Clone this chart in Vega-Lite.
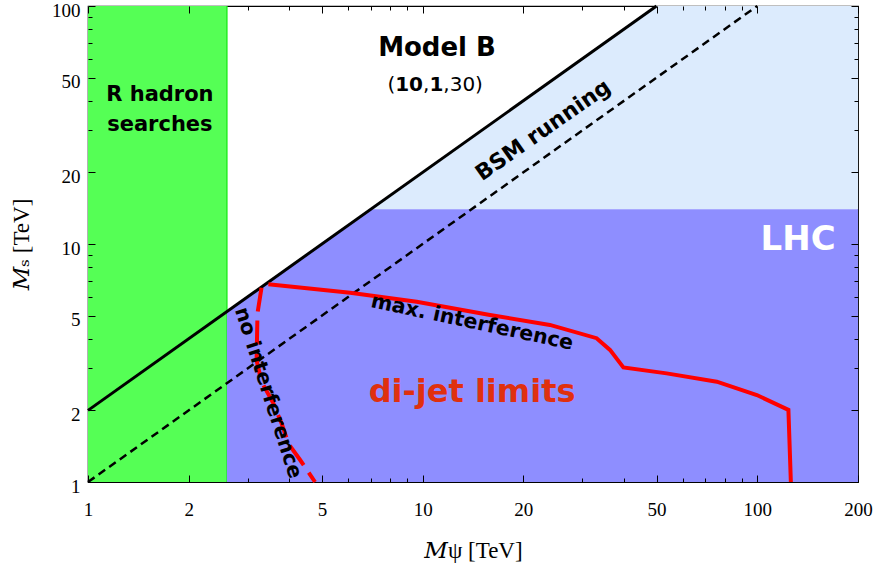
{
  "$schema": "https://vega.github.io/schema/vega-lite/v6.json",
  "width": 770,
  "height": 476,
  "autosize": {"type": "none"},
  "padding": {"left": 88, "top": 6, "right": 17, "bottom": 91},
  "background": "white",
  "config": {
    "view": {"stroke": "black", "strokeWidth": 1.2},
    "axis": {
      "grid": false,
      "domain": false,
      "ticks": true,
      "tickColor": "black",
      "tickWidth": 1,
      "labelFont": "Liberation Serif",
      "labelFontSize": 19,
      "labelColor": "black",
      "titleFont": "Liberation Serif, DejaVu Serif",
      "titleFontSize": 23,
      "titleFontWeight": "normal",
      "titleColor": "black",
      "labelOverlap": false,
      "labelFlush": false
    }
  },
  "datasets": {
    "green": [{"x": 1, "x2": 2.6, "y": 1, "y2": 100}],
    "lightblue": [{"x": 7, "y": 14, "y2": 14}, {"x": 50, "y": 14, "y2": 100}, {"x": 200, "y": 14, "y2": 100}],
    "purple": [{"x": 2.6, "y": 1, "y2": 5.2}, {"x": 7, "y": 1, "y2": 14}, {"x": 200, "y": 1, "y2": 14}],
    "solid": [{"x": 1, "y": 2}, {"x": 50, "y": 100}],
    "dashed": [{"x": 1, "y": 1}, {"x": 100, "y": 100}],
    "redsolid": [
      {"i": 1, "x": 3.46, "y": 6.77}, {"i": 2, "x": 6.07, "y": 6.24}, {"i": 3, "x": 9.6, "y": 5.72},
      {"i": 4, "x": 15.9, "y": 5.03}, {"i": 5, "x": 24, "y": 4.57}, {"i": 6, "x": 33.1, "y": 4.02},
      {"i": 7, "x": 36.3, "y": 3.59}, {"i": 8, "x": 39.8, "y": 3.03}, {"i": 9, "x": 53.6, "y": 2.86},
      {"i": 10, "x": 75.7, "y": 2.64}, {"i": 11, "x": 99.7, "y": 2.32}, {"i": 12, "x": 123.9, "y": 2.01},
      {"i": 13, "x": 126, "y": 1}
    ],
    "reddashed": [
      {"i": 1, "x": 3.3, "y": 6.55}, {"i": 2, "x": 3.21, "y": 5.12}, {"i": 3, "x": 3.19, "y": 3.25},
      {"i": 4, "x": 3.3, "y": 2.64}, {"i": 5, "x": 3.58, "y": 2.14}, {"i": 6, "x": 3.79, "y": 1.76},
      {"i": 7, "x": 3.97, "y": 1.45}, {"i": 8, "x": 4.3, "y": 1.24}, {"i": 9, "x": 4.77, "y": 1}
    ],
    "model": [{"x": 10.9, "y": 46.6}]
  },
  "layer": [
    {
      "data": {"name": "green"},
      "mark": {"type": "rect", "color": "#55ff55"},
      "encoding": {
        "x": {"field": "x", "type": "quantitative", "scale": {"type": "log", "domain": [1, 200], "nice": false},
          "axis": {
            "orient": "bottom",
            "zindex": 1,
            "values": [1, 2, 5, 10, 20, 50, 100, 200],
            "offset": -7,
            "tickSize": 7,
            "labelPadding": 18,
            "title": "𝑀ψ  [TeV]",
            "titlePadding": 20
          }},
        "x2": {"field": "x2"},
        "y": {"field": "y", "type": "quantitative", "scale": {"type": "log", "domain": [1, 100], "nice": false},
          "axis": {
            "orient": "left",
            "zindex": 1,
            "values": [1, 2, 5, 10, 20, 50, 100],
            "offset": -7,
            "tickSize": 7,
            "labelPadding": 8,
            "labelOffset": 4,
            "title": "𝑀ₛ  [TeV]",
            "titlePadding": 18
          }},
        "y2": {"field": "y2"}
      }
    },
    {
      "data": {"name": "green"},
      "mark": {"type": "rule", "color": "#22ee22", "strokeWidth": 1.5},
      "encoding": {
        "x": {"field": "x2", "type": "quantitative",
          "axis": {"orient": "bottom", "zindex": 1, "values": [3, 4, 6, 7, 8, 9, 30, 40, 60, 70, 80, 90], "offset": -4, "tickSize": 4, "labels": false, "title": null}},
        "y": {"field": "y", "type": "quantitative",
          "axis": {"orient": "left", "zindex": 1, "values": [3, 4, 6, 7, 8, 9, 30, 40, 60, 70, 80, 90], "offset": -4, "tickSize": 4, "labels": false, "title": null}},
        "y2": {"field": "y2"}
      }
    },
    {
      "data": {"name": "lightblue"},
      "mark": {"type": "area", "color": "#dcebfd", "opacity": 1},
      "encoding": {
        "x": {"field": "x", "type": "quantitative", "axis": null},
        "y": {"field": "y", "type": "quantitative", "axis": null},
        "y2": {"field": "y2"}
      }
    },
    {
      "data": {"name": "purple"},
      "mark": {"type": "area", "color": "#8e8eff", "opacity": 1},
      "encoding": {
        "x": {"field": "x", "type": "quantitative", "axis": null},
        "y": {"field": "y", "type": "quantitative", "axis": null},
        "y2": {"field": "y2"}
      }
    },
    {
      "data": {"name": "solid"},
      "mark": {"type": "line", "color": "black", "strokeWidth": 3},
      "encoding": {
        "x": {"field": "x", "type": "quantitative",
          "axis": {"orient": "top", "zindex": 1, "values": [1, 2, 5, 10, 20, 50, 100, 200], "offset": -7, "tickSize": 7, "labels": false, "title": null}},
        "y": {"field": "y", "type": "quantitative",
          "axis": {"orient": "right", "zindex": 1, "values": [1, 2, 5, 10, 20, 50, 100], "offset": -7, "tickSize": 7, "labels": false, "title": null}}
      }
    },
    {
      "data": {"name": "dashed"},
      "mark": {"type": "line", "color": "black", "strokeWidth": 2.5, "strokeDash": [8, 5]},
      "encoding": {
        "x": {"field": "x", "type": "quantitative",
          "axis": {"orient": "top", "zindex": 1, "values": [3, 4, 6, 7, 8, 9, 30, 40, 60, 70, 80, 90], "offset": -4, "tickSize": 4, "labels": false, "title": null}},
        "y": {"field": "y", "type": "quantitative",
          "axis": {"orient": "right", "zindex": 1, "values": [3, 4, 6, 7, 8, 9, 30, 40, 60, 70, 80, 90], "offset": -4, "tickSize": 4, "labels": false, "title": null}}
      }
    },
    {
      "data": {"name": "redsolid"},
      "mark": {"type": "line", "color": "#ff0000", "strokeWidth": 4},
      "encoding": {
        "x": {"field": "x", "type": "quantitative", "axis": null},
        "y": {"field": "y", "type": "quantitative", "axis": null},
        "order": {"field": "i"}
      }
    },
    {
      "data": {"name": "reddashed"},
      "mark": {"type": "line", "color": "#ff0000", "strokeWidth": 4, "strokeDash": [24, 9]},
      "encoding": {
        "x": {"field": "x", "type": "quantitative", "axis": null},
        "y": {"field": "y", "type": "quantitative", "axis": null},
        "order": {"field": "i"}
      }
    },
    {
      "data": {"values": [{"x": 1.64, "y": 42.3, "t": "R hadron"}, {"x": 1.64, "y": 31.6, "t": "searches"}]},
      "mark": {"type": "text", "font": "DejaVu Sans", "fontWeight": "bold", "fontSize": 21, "align": "center", "baseline": "middle", "color": "black"},
      "encoding": {
        "x": {"field": "x", "type": "quantitative", "axis": null},
        "y": {"field": "y", "type": "quantitative", "axis": null},
        "text": {"field": "t"}
      }
    },
    {
      "data": {"values": [{"x": 11.04, "y": 66.6, "t": "Model B"}]},
      "mark": {"type": "text", "font": "DejaVu Sans", "fontWeight": "bold", "fontSize": 26, "align": "center", "baseline": "middle", "color": "black"},
      "encoding": {
        "x": {"field": "x", "type": "quantitative", "axis": null},
        "y": {"field": "y", "type": "quantitative", "axis": null},
        "text": {"field": "t"}
      }
    },
    {
      "data": {"name": "model"},
      "mark": {"type": "text", "font": "DejaVu Sans", "fontSize": 20, "align": "left", "baseline": "middle", "color": "black", "dx": -47.75, "text": "("},
      "encoding": {
        "x": {"field": "x", "type": "quantitative", "axis": null},
        "y": {"field": "y", "type": "quantitative", "axis": null}
      }
    },
    {
      "data": {"name": "model"},
      "mark": {"type": "text", "font": "DejaVu Sans", "fontWeight": "bold", "fontSize": 20, "align": "left", "baseline": "middle", "color": "black", "dx": -39.95, "text": "10"},
      "encoding": {
        "x": {"field": "x", "type": "quantitative", "axis": null},
        "y": {"field": "y", "type": "quantitative", "axis": null}
      }
    },
    {
      "data": {"name": "model"},
      "mark": {"type": "text", "font": "DejaVu Sans", "fontSize": 20, "align": "left", "baseline": "middle", "color": "black", "dx": -12.15, "text": ","},
      "encoding": {
        "x": {"field": "x", "type": "quantitative", "axis": null},
        "y": {"field": "y", "type": "quantitative", "axis": null}
      }
    },
    {
      "data": {"name": "model"},
      "mark": {"type": "text", "font": "DejaVu Sans", "fontWeight": "bold", "fontSize": 20, "align": "left", "baseline": "middle", "color": "black", "dx": -5.75, "text": "1"},
      "encoding": {
        "x": {"field": "x", "type": "quantitative", "axis": null},
        "y": {"field": "y", "type": "quantitative", "axis": null}
      }
    },
    {
      "data": {"name": "model"},
      "mark": {"type": "text", "font": "DejaVu Sans", "fontSize": 20, "align": "left", "baseline": "middle", "color": "black", "dx": 8.15, "text": ",30)"},
      "encoding": {
        "x": {"field": "x", "type": "quantitative", "axis": null},
        "y": {"field": "y", "type": "quantitative", "axis": null}
      }
    },
    {
      "data": {"values": [{"x": 22.9, "y": 30.1, "t": "BSM running"}]},
      "mark": {"type": "text", "font": "DejaVu Sans", "fontWeight": "bold", "fontSize": 22, "align": "center", "baseline": "middle", "color": "black", "angle": 325},
      "encoding": {
        "x": {"field": "x", "type": "quantitative", "axis": null},
        "y": {"field": "y", "type": "quantitative", "axis": null},
        "text": {"field": "t"}
      }
    },
    {
      "data": {"values": [{"x": 132.4, "y": 10.4, "t": "LHC"}]},
      "mark": {"type": "text", "font": "DejaVu Sans", "fontWeight": "bold", "fontSize": 34, "align": "center", "baseline": "middle", "color": "white"},
      "encoding": {
        "x": {"field": "x", "type": "quantitative", "axis": null},
        "y": {"field": "y", "type": "quantitative", "axis": null},
        "text": {"field": "t"}
      }
    },
    {
      "data": {"values": [{"x": 14.05, "y": 4.68, "t": "max. interference"}]},
      "mark": {"type": "text", "font": "DejaVu Sans", "fontWeight": "bold", "fontSize": 20.5, "align": "center", "baseline": "middle", "color": "black", "angle": 12},
      "encoding": {
        "x": {"field": "x", "type": "quantitative", "axis": null},
        "y": {"field": "y", "type": "quantitative", "axis": null},
        "text": {"field": "t"}
      }
    },
    {
      "data": {"values": [{"x": 3.45, "y": 2.37, "t": "no interference"}]},
      "mark": {"type": "text", "font": "DejaVu Sans", "fontWeight": "bold", "fontSize": 20.5, "align": "center", "baseline": "middle", "color": "black", "angle": 72},
      "encoding": {
        "x": {"field": "x", "type": "quantitative", "axis": null},
        "y": {"field": "y", "type": "quantitative", "axis": null},
        "text": {"field": "t"}
      }
    },
    {
      "data": {"values": [{"x": 14.05, "y": 2.39, "t": "di-jet limits"}]},
      "mark": {"type": "text", "font": "DejaVu Sans", "fontWeight": "bold", "fontSize": 32, "align": "center", "baseline": "middle", "color": "#e0300f"},
      "encoding": {
        "x": {"field": "x", "type": "quantitative", "axis": null},
        "y": {"field": "y", "type": "quantitative", "axis": null},
        "text": {"field": "t"}
      }
    }
  ],
  "resolve": {"axis": {"x": "independent", "y": "independent"}}
}
